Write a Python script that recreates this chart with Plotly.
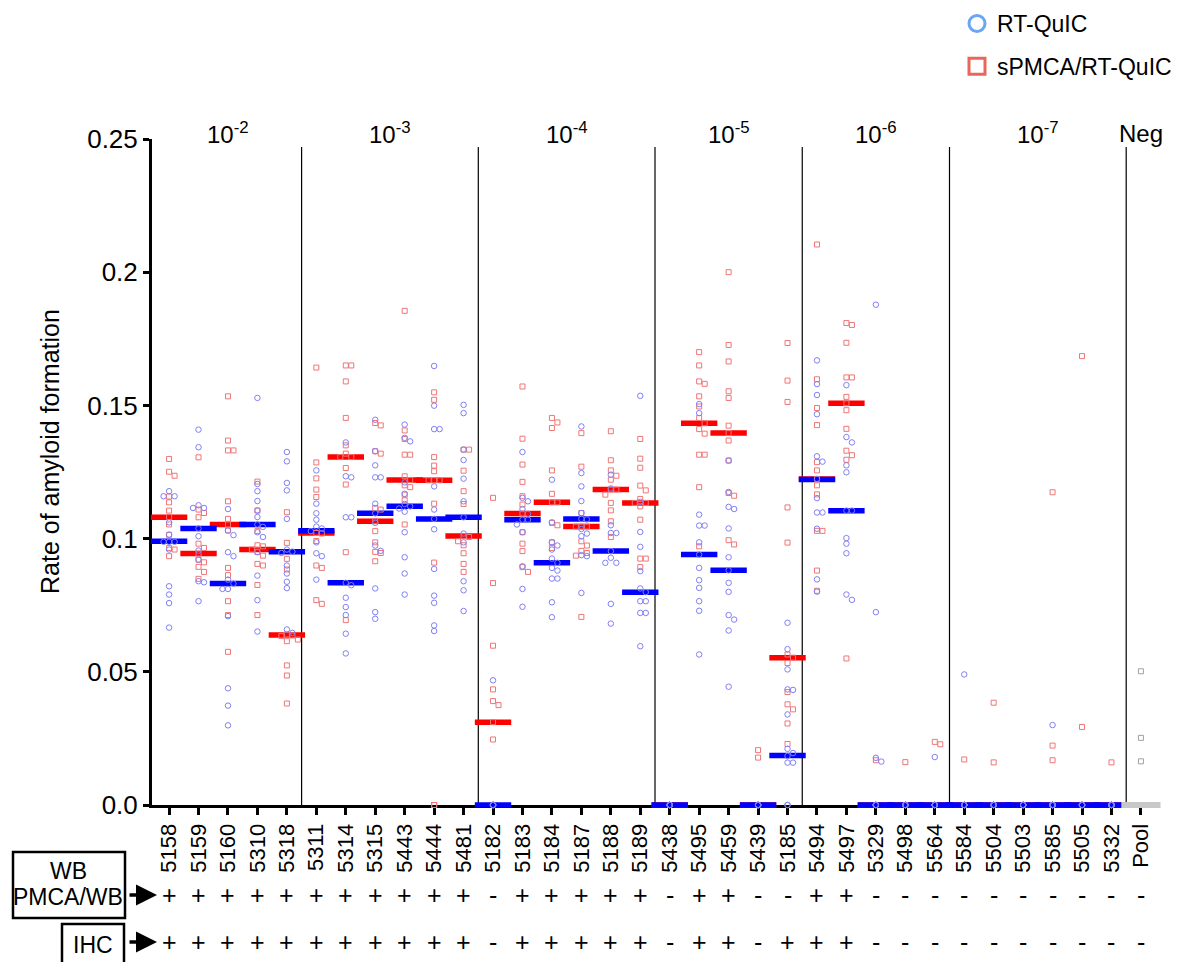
import plotly.graph_objects as go

# ---------------- data ----------------
samples = ["5158", "5159", "5160", "5310", "5318",
           "5311", "5314", "5315", "5443", "5444", "5481",
           "5182", "5183", "5184", "5187", "5188", "5189",
           "5438", "5495", "5459", "5439", "5185",
           "5494", "5497", "5329", "5498", "5564",
           "5584", "5504", "5503", "5585", "5505", "5332"]
neg_label = "Pool"

group_labels = ["10<sup>-2</sup>", "10<sup>-3</sup>", "10<sup>-4</sup>", "10<sup>-5</sup>",
                "10<sup>-6</sup>", "10<sup>-7</sup>", "Neg"]
group_sizes = [5, 6, 6, 5, 5, 6, 1]

Z = [0.0]
rt_quic = [
    [0.1178, 0.1159, 0.1159, 0.1061, 0.1015, 0.0988, 0.0988, 0.0988, 0.0959, 0.0821, 0.079, 0.0758, 0.0666],
    [0.1409, 0.1343, 0.1125, 0.1115, 0.1115, 0.1038, 0.1009, 0.0955, 0.0921, 0.084, 0.0836, 0.0765],
    [0.1111, 0.103, 0.1013, 0.0949, 0.0934, 0.0846, 0.0831, 0.0811, 0.0811, 0.0709, 0.0438, 0.0373, 0.0299],
    [0.1528, 0.1205, 0.1178, 0.1141, 0.1106, 0.1081, 0.1053, 0.1044, 0.1024, 0.1006, 0.0949, 0.0861, 0.0769, 0.0651],
    [0.1325, 0.129, 0.1209, 0.1181, 0.1074, 0.0959, 0.0951, 0.0946, 0.0899, 0.0869, 0.0838, 0.0814, 0.0659, 0.0646],
    [0.1256, 0.1131, 0.1095, 0.1071, 0.1045, 0.1038, 0.1028, 0.0986, 0.0945, 0.0934, 0.0846],
    [0.1361, 0.1234, 0.123, 0.108, 0.108, 0.0834, 0.0825, 0.0778, 0.0743, 0.0713, 0.0643, 0.0569],
    [0.1446, 0.1328, 0.1275, 0.123, 0.123, 0.1131, 0.1095, 0.1059, 0.0974, 0.0954, 0.0813, 0.0724, 0.0699],
    [0.1428, 0.1378, 0.1365, 0.1211, 0.1168, 0.113, 0.1121, 0.1113, 0.1101, 0.1024, 0.093, 0.0869, 0.079],
    [0.1648, 0.1499, 0.1411, 0.1411, 0.1196, 0.1109, 0.1074, 0.1035, 0.0886, 0.0786, 0.0759, 0.0674, 0.0653],
    [0.1502, 0.1471, 0.1334, 0.1295, 0.1225, 0.114, 0.108, 0.1019, 0.0986, 0.084, 0.0806, 0.0728],
    [0.0468] + Z * 11,
    [0.1325, 0.1153, 0.114, 0.1111, 0.1093, 0.1071, 0.1071, 0.1053, 0.1024, 0.0896, 0.0811, 0.0744],
    [0.1221, 0.1061, 0.0986, 0.0974, 0.0959, 0.0925, 0.0909, 0.089, 0.088, 0.085, 0.085, 0.0761, 0.0705],
    [0.1421, 0.1246, 0.1196, 0.1141, 0.1096, 0.1074, 0.1072, 0.1036, 0.1019, 0.1009, 0.0934, 0.0938, 0.0796],
    [0.124, 0.1188, 0.105, 0.1021, 0.1021, 0.0953, 0.0928, 0.0909, 0.0909, 0.0755, 0.0681],
    [0.1536, 0.1138, 0.1025, 0.0969, 0.0878, 0.0813, 0.0799, 0.0765, 0.0765, 0.0721, 0.0721, 0.0596],
    Z * 12,
    [0.1505, 0.1471, 0.109, 0.1049, 0.1049, 0.0986, 0.094, 0.089, 0.0844, 0.0815, 0.0765, 0.0729, 0.0565],
    [0.1293, 0.1175, 0.1119, 0.1111, 0.1038, 0.093, 0.0881, 0.0834, 0.08, 0.0713, 0.0696, 0.0655, 0.0444],
    Z * 12,
    [0.0684, 0.0585, 0.0509, 0.0434, 0.0432, 0.034, 0.0211, 0.0195, 0.0184, 0.0159, 0.0159, 0.0, 0.0],
    [0.1669, 0.158, 0.1539, 0.1467, 0.1309, 0.1289, 0.1224, 0.1152, 0.1098, 0.1098, 0.1037, 0.0847, 0.0801],
    [0.1576, 0.1381, 0.1361, 0.1275, 0.1249, 0.1105, 0.1105, 0.1002, 0.0981, 0.0945, 0.079, 0.077],
    [0.1878, 0.0724, 0.0177, 0.0163] + Z * 8,
    Z * 12,
    [0.018] + Z * 11,
    [0.049] + Z * 11,
    Z * 12,
    Z * 12,
    [0.03] + Z * 11,
    Z * 12,
    Z * 12,
]

spmca_rt_quic = [
    [0.1299, 0.1251, 0.1236, 0.1158, 0.1136, 0.1105, 0.1081, 0.1053, 0.1014, 0.0965, 0.0959, 0.0934],
    [0.1305, 0.1109, 0.1096, 0.108, 0.0981, 0.0965, 0.0944, 0.0921, 0.0911, 0.0894, 0.0875, 0.0849],
    [0.1534, 0.1368, 0.1331, 0.1331, 0.114, 0.1074, 0.1053, 0.1031, 0.089, 0.0863, 0.0765, 0.0713, 0.0575],
    [0.1214, 0.1105, 0.1028, 0.0975, 0.0971, 0.0959, 0.095, 0.0936, 0.0905, 0.0899, 0.0826, 0.0713],
    [0.1099, 0.0984, 0.0924, 0.0884, 0.064, 0.0636, 0.0634, 0.0621, 0.0615, 0.0524, 0.0486, 0.0381],
    [0.1642, 0.1286, 0.1226, 0.1184, 0.1156, 0.1021, 0.1019, 0.0991, 0.0899, 0.089, 0.0769, 0.0755],
    [0.165, 0.165, 0.159, 0.1453, 0.135, 0.1319, 0.1306, 0.1306, 0.1265, 0.1203, 0.0949, 0.0694],
    [0.1434, 0.1425, 0.1328, 0.1319, 0.1115, 0.1109, 0.1065, 0.1028, 0.0986, 0.095, 0.0946, 0.0915],
    [0.1855, 0.1406, 0.1374, 0.1315, 0.1315, 0.1234, 0.122, 0.12, 0.1193, 0.1165, 0.1144, 0.1053],
    [0.1549, 0.1521, 0.1306, 0.1274, 0.1253, 0.1219, 0.1219, 0.1219, 0.1131, 0.091, 0.0, 0.0, 0.0],
    [0.1334, 0.1334, 0.1255, 0.1178, 0.113, 0.1009, 0.1006, 0.099, 0.0975, 0.0945, 0.0905, 0.0875],
    [0.1153, 0.0833, 0.0598, 0.0434, 0.039, 0.0375, 0.0311, 0.0246],
    [0.1571, 0.1375, 0.1278, 0.1213, 0.1159, 0.1128, 0.1094, 0.1024, 0.0981, 0.0953, 0.0893, 0.0875],
    [0.1453, 0.1436, 0.1415, 0.1256, 0.1168, 0.1136, 0.1136, 0.1059, 0.105, 0.0986, 0.0965],
    [0.1396, 0.127, 0.1096, 0.1045, 0.1045, 0.1045, 0.099, 0.0974, 0.0954, 0.0946, 0.0936, 0.0706],
    [0.1403, 0.1294, 0.1256, 0.1236, 0.1221, 0.1184, 0.1184, 0.1165, 0.1134, 0.1106, 0.1065, 0.1006],
    [0.1374, 0.13, 0.1266, 0.1199, 0.1181, 0.1149, 0.1134, 0.1134, 0.1121, 0.1071, 0.0925, 0.0925, 0.0893],
    [],
    [0.170, 0.165, 0.159, 0.1581, 0.1534, 0.1496, 0.1453, 0.1433, 0.1411, 0.1394, 0.1315, 0.1315, 0.1193, 0.0971],
    [0.2, 0.1727, 0.1665, 0.1553, 0.1528, 0.1424, 0.1396, 0.1368, 0.1293, 0.1171, 0.1161, 0.0994, 0.0978],
    [0.0206, 0.0178],
    [0.1734, 0.1593, 0.1513, 0.1117, 0.0985, 0.0565, 0.0553, 0.0533, 0.0424, 0.0378, 0.0359, 0.0306, 0.0229],
    [0.2104, 0.1598, 0.149, 0.1426, 0.1287, 0.1256, 0.1224, 0.12, 0.1166, 0.1029, 0.1029, 0.088, 0.0804],
    [0.1809, 0.1802, 0.1735, 0.1605, 0.1605, 0.1532, 0.1508, 0.1482, 0.1412, 0.133, 0.1313, 0.1296, 0.055],
    [0.0168],
    [0.0161],
    [0.0237, 0.0228],
    [0.0171],
    [0.0384, 0.016],
    [],
    [0.1174, 0.0223, 0.0168],
    [0.1685, 0.0293],
    [0.016],
]

rt_quic_median = [0.099, 0.1038, 0.0831, 0.1053, 0.0951,
                  0.1029, 0.0834, 0.1095, 0.1121, 0.1074, 0.108,
                  0.0, 0.1071, 0.0909, 0.1074, 0.0953, 0.0799,
                  0.0, 0.094, 0.0881, 0.0, 0.0186,
                  0.1222, 0.1105, 0.0, 0.0, 0.0,
                  0.0, 0.0, 0.0, 0.0, 0.0, 0.0]
spmca_median = [0.108, 0.0944, 0.1053, 0.0959, 0.0638,
                0.1021, 0.1306, 0.1065, 0.122, 0.1219, 0.101,
                0.0311, 0.1094, 0.1136, 0.1045, 0.1184, 0.1134,
                0.0, 0.1433, 0.1396, 0.0, 0.0553,
                0.1224, 0.1508, 0.0, 0.0, 0.0,
                0.0, 0.0, 0.0, 0.0, 0.0, 0.0]

neg_values = [0.0502, 0.0252, 0.0164]
neg_median = 0.0

wb_pmca_wb = ["+"] * 11 + ["-"] + ["+"] * 5 + ["-", "+", "+", "-", "-", "+", "+"] + ["-"] * 10
ihc = ["+"] * 11 + ["-"] + ["+"] * 5 + ["-", "+", "+", "-", "+", "+", "+"] + ["-"] * 10

# ---------------- layout constants ----------------
W, H = 1200, 962
ML, MR, MT, MB = 152, 42, 139, 157
XMIN, XMAX = -0.58, 33.58
YMAX = 0.25
PLOT_W = W - ML - MR
PLOT_H = H - MT - MB
PX_PER_IDX = PLOT_W / (XMAX - XMIN)
PX_PER_VAL = PLOT_H / YMAX
FONT = "Liberation Sans, Arial, sans-serif"

C_CIRCLE = "#8080f5"
C_SQUARE = "#f07575"
C_RED = "#ff0000"
C_BLUE = "#0000ff"


def swarm(vals, step=5.5, mk=5.5):
    """horizontal offsets (in x units) so nearby markers do not overlap"""
    res = [0.0] * len(vals)
    placed = []
    for i in sorted(range(len(vals)), key=lambda j: -vals[j]):
        v = vals[i]
        if v == 0:
            continue
        xp = 0.0
        for k in [0, 1, -1, 2, -2, 3, -3, 4, -4]:
            xp = k * step
            if all(abs(v - pv) * PX_PER_VAL >= mk or abs(xp - px) >= mk for pv, px in placed):
                break
        placed.append((v, xp))
        res[i] = xp / PX_PER_IDX
    return res


def flatten(series):
    xs, ys = [], []
    for i, vals in enumerate(series):
        offs = swarm(vals)
        xs += [i + o for o in offs]
        ys += list(vals)
    return xs, ys


def px_x(px):
    return (px - ML) / PLOT_W


def px_y(py):
    return (MT + PLOT_H - py) / PLOT_H


idx = list(range(len(samples)))
neg_idx = len(samples)

fig = go.Figure()

bar_marker = dict(symbol="line-ew-open", size=26)
fig.add_trace(go.Scatter(x=idx, y=spmca_median, mode="markers", showlegend=False, cliponaxis=False,
                         marker=dict(bar_marker, color=C_RED, line=dict(width=5.5, color=C_RED))))
fig.add_trace(go.Scatter(x=idx, y=rt_quic_median, mode="markers", showlegend=False, cliponaxis=False,
                         marker=dict(bar_marker, color=C_BLUE, line=dict(width=5.5, color=C_BLUE))))
fig.add_trace(go.Scatter(x=[neg_idx], y=[neg_median], mode="markers", showlegend=False, cliponaxis=False,
                         marker=dict(symbol="line-ew-open", size=28, color="#c8c8c8",
                                     line=dict(width=6, color="#c8c8c8"))))

sx, sy = flatten(spmca_rt_quic)
fig.add_trace(go.Scatter(x=sx, y=sy, mode="markers", showlegend=False, cliponaxis=False,
                         marker=dict(symbol="square-open", size=5, color=C_SQUARE, line=dict(width=1))))
cx, cy = flatten(rt_quic)
fig.add_trace(go.Scatter(x=cx, y=cy, mode="markers", showlegend=False, cliponaxis=False,
                         marker=dict(symbol="circle-open", size=5.5, color=C_CIRCLE, line=dict(width=1))))
nx = [neg_idx + o for o in swarm(neg_values)]
fig.add_trace(go.Scatter(x=nx, y=neg_values, mode="markers", showlegend=False, cliponaxis=False,
                         marker=dict(symbol="square-open", size=5, color="#a0a0a0", line=dict(width=1))))

# legend entries
fig.add_trace(go.Scatter(x=[None], y=[None], mode="markers", name="RT-QuIC", legendgroup="a",
                         marker=dict(symbol="circle-open", size=16, color="#6aa6f2", line=dict(width=3))))
fig.add_trace(go.Scatter(x=[None], y=[None], mode="markers", name="sPMCA/RT-QuIC", legendgroup="b",
                         marker=dict(symbol="square-open", size=16, color="#e8675a", line=dict(width=3))))

shapes = []
annotations = []
TXT = dict(color="black", family=FONT)

# group dividers and labels
start = 0
for gi, (lab, n) in enumerate(zip(group_labels, group_sizes)):
    end = start + n - 1
    annotations.append(dict(x=(start + end) / 2, y=1.0, xref="x", yref="paper", text=lab,
                            showarrow=False, xanchor="center", yanchor="middle", yshift=6,
                            font=dict(TXT, size=24)))
    if gi < len(group_sizes) - 1:
        shapes.append(dict(type="line", xref="x", yref="y", x0=end + 0.5, x1=end + 0.5,
                           y0=0, y1=0.247, line=dict(color="black", width=1.2), layer="below"))
    start = end + 1

# y title
annotations.append(dict(x=px_x(50), y=px_y(452), xref="paper", yref="paper",
                        xanchor="center", yanchor="middle",
                        text="Rate of amyloid formation", textangle=-90, showarrow=False,
                        font=dict(TXT, size=25)))

# +/- table
for i, (a, b) in enumerate(zip(wb_pmca_wb, ihc)):
    for val, ypx in ((a, 895), (b, 942)):
        annotations.append(dict(x=i, y=px_y(ypx), xref="x", yref="paper", text=val, showarrow=False,
                                xanchor="center", yanchor="middle", font=dict(TXT, size=25)))

shapes.append(dict(type="rect", xref="paper", yref="paper", x0=px_x(13), x1=px_x(125),
                   y0=px_y(918), y1=px_y(852), line=dict(color="black", width=2.5)))
shapes.append(dict(type="rect", xref="paper", yref="paper", x0=px_x(62), x1=px_x(124),
                   y0=px_y(968), y1=px_y(924), line=dict(color="black", width=2.5)))
for txt, xp, yp in (("WB", 68, 871), ("PMCA/WB", 68, 897), ("IHC", 93, 945)):
    annotations.append(dict(x=px_x(xp), y=px_y(yp), xref="paper", yref="paper", text=txt,
                            xanchor="center", yanchor="middle", showarrow=False,
                            font=dict(TXT, size=23)))
for ay_px in (895, 942):
    annotations.append(dict(x=px_x(157), y=px_y(ay_px), xref="paper", yref="paper", text="",
                            showarrow=True, ax=-29, ay=0, arrowhead=2, arrowsize=1.2,
                            arrowwidth=3.5, arrowcolor="black", standoff=0))

fig.update_layout(
    width=W, height=H,
    margin=dict(l=ML, r=MR, t=MT, b=MB, autoexpand=False),
    paper_bgcolor="white", plot_bgcolor="white",
    font=dict(family=FONT, color="black"),
    shapes=shapes, annotations=annotations,
    legend=dict(x=px_x(957), y=px_y(2), xanchor="left", yanchor="top",
                font=dict(size=23, color="black", family=FONT),
                tracegroupgap=10, bgcolor="rgba(0,0,0,0)"),
    xaxis=dict(range=[XMIN, XMAX], tickvals=idx + [neg_idx], ticktext=samples + [neg_label],
               tickangle=-90, ticks="outside", ticklen=7, tickwidth=3, tickcolor="black",
               showline=True, linewidth=3, linecolor="black", showgrid=False, zeroline=False,
               tickfont=dict(size=22, color="black", family=FONT), layer="below traces"),
    yaxis=dict(range=[0, YMAX], tickvals=[0, 0.05, 0.1, 0.15, 0.2, 0.25],
               ticktext=["0.0", "0.05", "0.1", "0.15", "0.2", "0.25"],
               ticks="outside", ticklen=6, tickwidth=3, tickcolor="black",
               showline=True, linewidth=3, linecolor="black", showgrid=False, zeroline=False,
               tickfont=dict(size=26, color="black", family=FONT), layer="below traces"),
)

fig.write_html("out.html")
